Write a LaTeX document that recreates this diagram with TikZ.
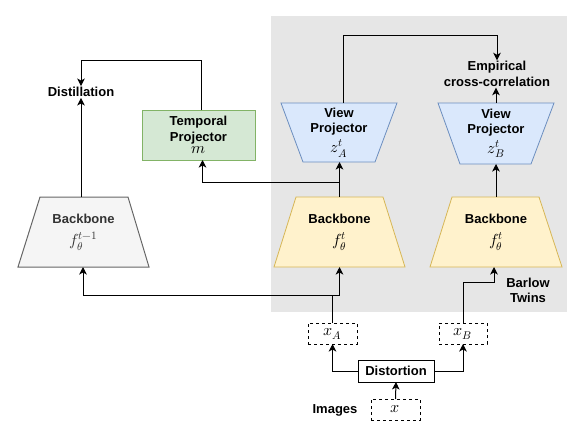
\documentclass[tikz,border=0pt]{standalone}
\usepackage{unicode-math}
\setmainfont{Liberation Sans}
\setmathfont{Latin Modern Math}
\usetikzlibrary{arrows.meta,calc,backgrounds}
\definecolor{bgregion}{HTML}{E6E6E6}
\definecolor{yfill}{HTML}{FFF2CC}
\definecolor{ydraw}{HTML}{D6B656}
\definecolor{bfill}{HTML}{DAE8FC}
\definecolor{bdraw}{HTML}{6C8EBF}
\definecolor{gfill}{HTML}{D5E8D4}
\definecolor{gdraw}{HTML}{82B366}
\definecolor{ofill}{HTML}{F5F5F5}
\definecolor{odraw}{HTML}{666666}
\definecolor{otext}{HTML}{333333}
\newcommand{\mth}[1]{{\fontsize{16}{18}\selectfont$#1$}}
\begin{document}
\begin{tikzpicture}[x=1pt,y=-1pt,
  font=\fontsize{13}{15.5}\selectfont\bfseries,
  lbl/.style={align=center,inner sep=1pt},
  shapebox/.style={minimum width=#1,inner sep=0pt,outer sep=0pt,align=center},
  arr/.style={draw=black,line width=1pt,-{Stealth[length=7.5pt,width=7.5pt,inset=2pt]}},
  dbox/.style={draw=black,dashed,fill=white,line width=0.8pt,inner sep=0pt,outer sep=0pt,minimum height=21pt},
  sbox/.style={draw=black,fill=white,line width=1pt,inner sep=0pt,outer sep=0pt,minimum height=22pt}]
\useasboundingbox (0,0) rectangle (576,429);

% nodes
\node[lbl] (dist) at (81,92) {Distillation};
\node[lbl] (emp) at (497,74) {Empirical\\cross-correlation};
\node[shapebox=113pt,minimum height=50pt,draw=gdraw,fill=gfill,line width=0.8pt] (tp) at (198.5,135) {Temporal\\[0pt]Projector\\[-3pt]\mth{m}};
\node[shapebox=131pt,minimum height=70pt,text=otext] (oldbb) at (83.5,232) {Backbone\\[7pt]\mth{f_\theta^{t-1}}};
\node[shapebox=131pt,minimum height=70pt] (bbA) at (339.5,232) {Backbone\\[7pt]\mth{f_\theta^{t}}};
\node[shapebox=132pt,minimum height=70pt] (bbB) at (496,232) {Backbone\\[7pt]\mth{f_\theta^{t}}};
\node[shapebox=116pt,minimum height=59pt] (vpA) at (339,132.5) {View\\Projector\\[3pt]\mth{z^{t}_{A}}};
\node[shapebox=116pt,minimum height=61pt] (vpB) at (496,133.5) {View\\Projector\\[3pt]\mth{z^{t}_{B}}};
\node[dbox,minimum width=49pt] (xA) at (332.5,333.5) {\mth{x_A}};
\node[dbox,minimum width=48pt] (xB) at (463,333.5) {\mth{x_B}};
\node[sbox,minimum width=76pt] (distn) at (396,371) {Distortion};
\node[dbox,minimum width=49pt] (xbox) at (395.5,409.5) {\mth{x}};
\node[lbl] (img) at (335,410) {Images};
\node[lbl] (bt) at (528,290.5) {Barlow\\Twins};

\begin{scope}[on background layer]
  \fill[bgregion] (271,16) rectangle (567,312);
  \draw[draw=odraw,fill=ofill,line width=1pt] (oldbb.south west) -- (oldbb.south east)
     -- ($(oldbb.north east)+(-21,0)$) -- ($(oldbb.north west)+(22,0)$) -- cycle;
  \draw[draw=ydraw,fill=yfill,line width=0.8pt] (bbA.south west) -- (bbA.south east)
     -- ($(bbA.north east)+(-22,0)$) -- ($(bbA.north west)+(22,0)$) -- cycle;
  \draw[draw=ydraw,fill=yfill,line width=0.8pt] (bbB.south west) -- (bbB.south east)
     -- ($(bbB.north east)+(-23,0)$) -- ($(bbB.north west)+(22,0)$) -- cycle;
  \draw[draw=bdraw,fill=bfill,line width=0.8pt] (vpA.north west) -- (vpA.north east)
     -- ($(vpA.south east)+(-22,0)$) -- ($(vpA.south west)+(22,0)$) -- cycle;
  \draw[draw=bdraw,fill=bfill,line width=0.8pt] (vpB.north west) -- (vpB.north east)
     -- ($(vpB.south east)+(-23,0)$) -- ($(vpB.south west)+(22,0)$) -- cycle;
\end{scope}

\coordinate (jTP) at (339.5,182);

% connectors
\draw[arr] ($(tp.north)+(2.5,0)$) -- ++(0,-50) -| (dist.north);
\draw[arr] (oldbb.north -| dist.south) -- (dist.south);
\draw[arr] (bbA.north) -- (bbA.north |- vpA.south);
\draw[arr] (jTP) -| ($(tp.south)+(4,0)$);
\draw[arr] ($(vpA.north)+(4,0)$) -- ++(0,-68) -| (emp.north);
\draw[arr] (vpB.north) -- (vpB.north |- emp.south);
\draw[arr] (bbB.north) -- (vpB.south);
\draw[arr] (xA.north) -- ++(0,-28) -| (bbA.south);
\draw[arr] ($(xA.north)+(0,-28)$) -| ($(oldbb.south)+(-0.5,0)$);
\draw[arr] (xB.north) -- ++(0,-41) -| ($(bbB.south)+(-2,0)$);
\draw[arr] (distn.west) -| (xA.south);
\draw[arr] (distn.east) -| (xB.south);
\draw[arr] (xbox.north) -- (distn.south);
\end{tikzpicture}
\end{document}
